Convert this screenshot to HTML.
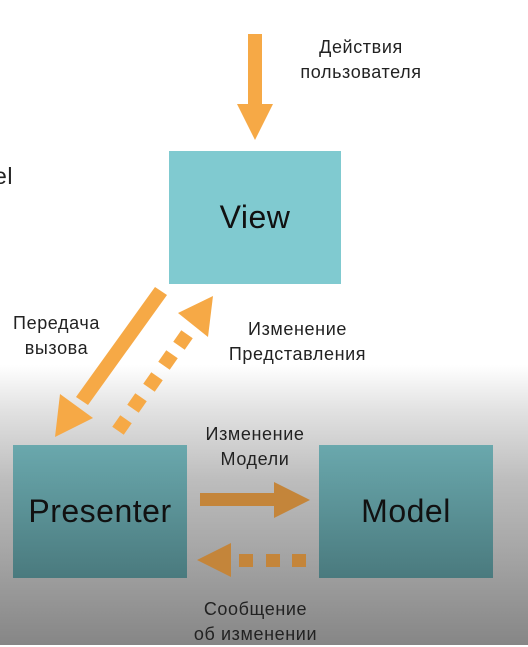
<!DOCTYPE html>
<html><head><meta charset="utf-8"><style>
html,body{margin:0;padding:0;}
body{width:528px;height:645px;overflow:hidden;position:relative;font-family:"Liberation Sans",sans-serif;
background:linear-gradient(to bottom,#fff 0px,#fff 365px,#e2e2e2 410px,#bdbdbd 480px,#a3a3a3 560px,#868686 645px);}
.t{position:absolute;color:#222;font-size:18px;line-height:25px;text-align:center;white-space:nowrap;letter-spacing:0.6px}
.b{position:absolute;display:flex;align-items:center;justify-content:center;color:#111;font-size:32px;letter-spacing:0.5px}
</style></head><body>
<div class="b" style="left:169px;top:151px;width:172px;height:133px;background:#80cad0;">View</div>
<div class="b" style="left:13px;top:445px;width:174px;height:133px;background:linear-gradient(#6aa8ad,#4a7a7e);">Presenter</div>
<div class="b" style="left:319px;top:445px;width:174px;height:133px;background:linear-gradient(#6aa8ad,#4a7a7e);">Model</div>
<div class="t" style="left:0;top:164px;font-size:23px;text-align:left;margin-left:-6px">el</div>
<div class="t" style="left:296px;top:35px;width:130px">Действия<br>пользователя</div>
<div class="t" style="left:0;top:311px;width:113px">Передача<br>вызова</div>
<div class="t" style="left:220px;top:317px;width:155px">Изменение<br>Представления</div>
<div class="t" style="left:190px;top:422px;width:130px">Изменение<br>Модели</div>
<div class="t" style="left:178px;top:597px;width:155px">Сообщение<br>об изменении</div>
<svg width="528" height="645" style="position:absolute;left:0;top:0">
<g fill="#f6a946">
<rect x="248" y="34" width="14" height="72"/>
<polygon points="237,104 273,104 255,140"/>
<polygon points="155,287 167,295 88,405 76,397"/>
<polygon points="55,437 60,394 93,418"/>
<polygon points="213,296 178,313 208,337"/>
<rect x="115" y="418" width="14" height="14" transform="rotate(35 122 425)"/>
<rect x="130" y="396" width="14" height="14" transform="rotate(35 137 403)"/>
<rect x="146" y="375" width="14" height="14" transform="rotate(35 153 382)"/>
<rect x="161" y="353" width="14" height="14" transform="rotate(35 168 360)"/>
<rect x="176" y="333" width="14" height="14" transform="rotate(35 183 340)"/>
</g>
<g fill="#c4853a">
<rect x="200" y="493" width="76" height="13"/>
<polygon points="274,482 274,518 310,500"/>
<polygon points="197,560 231,543 231,577"/>
<rect x="239" y="554" width="14" height="13"/>
<rect x="266" y="554" width="14" height="13"/>
<rect x="292" y="554" width="14" height="13"/>
</g>
</svg>
</body></html>
